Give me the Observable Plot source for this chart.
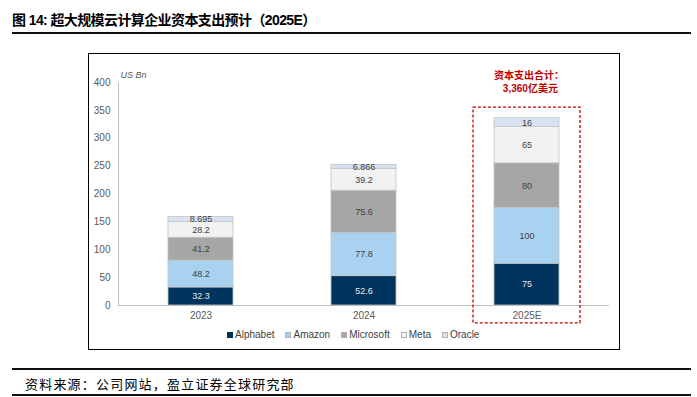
<!DOCTYPE html>
<html><head><meta charset="utf-8">
<script src="https://cdn.jsdelivr.net/npm/d3@7"></script>
<script src="https://cdn.jsdelivr.net/npm/@observablehq/plot@0.6"></script>
<style>
body{margin:0;background:#fff;}
#wrap{position:relative;width:697px;height:397px;overflow:hidden;font-family:"Liberation Sans",Arial,sans-serif;}
#title{position:absolute;left:12px;top:9px;font-family:"Liberation Sans","Noto Sans CJK SC",sans-serif;font-weight:bold;font-size:14px;letter-spacing:-0.6px;color:#000;white-space:nowrap;}
.hl{position:absolute;left:12px;width:679px;background:#111;}
#frame{position:absolute;left:88px;top:53px;width:530px;height:295px;border:1.5px solid #000;}
#chart{position:absolute;left:0;top:0;}
#legend{position:absolute;top:329px;left:227px;font-size:10px;color:#404040;white-space:nowrap;display:flex;gap:0;}
#legend span.it{display:inline-flex;align-items:center;margin-right:11px;}
#legend i{display:inline-block;width:6px;height:6px;margin-right:2px;box-sizing:border-box;}
#source{position:absolute;left:25px;top:374px;font-family:"Noto Sans CJK SC",sans-serif;font-size:13px;letter-spacing:1.2px;color:#000;white-space:nowrap;}
</style></head>
<body>
<div id="wrap">
  <div id="title">图 14: 超大规模云计算企业资本支出预计（2025E）</div>
  <div class="hl" style="top:32px;height:2px;"></div>
  <div id="frame"></div>
  <div id="chart"></div>
  <div id="legend"></div>
  <div class="hl" style="top:368px;height:1.5px;"></div>
  <div id="source">资料来源：公司网站，盈立证券全球研究部</div>
  <div class="hl" style="top:394px;height:1.5px;"></div>
</div>
<script>
const years = ["2023", "2024", "2025E"];
const companies = ["Alphabet", "Amazon", "Microsoft", "Meta", "Oracle"];
const alphabet = [32.3, 52.6, 75];
const amazon = [48.2, 77.8, 100];
const microsoft = [41.2, 75.6, 80];
const meta = [28.2, 39.2, 65];
const oracle = [8.695, 6.866, 16];
const labels = [
  ["32.3", "52.6", "75"],
  ["48.2", "77.8", "100"],
  ["41.2", "75.6", "80"],
  ["28.2", "39.2", "65"],
  ["8.695", "6.866", "16"]
];
const colors = ["#00345f", "#a9d2f0", "#a6a6a6", "#f2f2f2", "#d9e2f3"];
const yTicks = [0, 50, 100, 150, 200, 250, 300, 350, 400];
const highlightYear = "2025E";

const series = [alphabet, amazon, microsoft, meta, oracle];
const data = [];
companies.forEach((c, ci) => {
  years.forEach((yr, yi) => {
    data.push({year: yr, company: c, value: series[ci][yi], label: labels[ci][yi], ci});
  });
});
const total2025 = d3.sum(series, s => s[years.indexOf(highlightYear)]);
const annot = [{year: highlightYear, text: "资本支出合计：\n " + d3.format(",")(Math.round(total2025 * 10)) + "亿美元"}];

const chart = Plot.plot({
  width: 697,
  height: 397,
  marginLeft: 118,
  marginRight: 88,
  marginTop: 82,
  marginBottom: 92,
  style: {fontFamily: "Liberation Sans, Arial, sans-serif", fontSize: "10px", color: "#595959", background: "transparent"},
  x: {domain: years, paddingInner: 0.6, paddingOuter: 0.3, label: null},
  y: {domain: [0, 400], label: null},
  color: {domain: companies, range: colors},
  marks: [
    Plot.frame({anchor: "left", stroke: "#bfbfbf"}),
    Plot.barY(data, {x: "year", y: "value", fill: "company", order: companies, stroke: "#c4c4c4", strokeWidth: 0.8}),
    Plot.text(data, Plot.stackY({x: "year", y: "value", z: "company", order: companies, text: "label",
      fill: d => d.ci === 0 ? "#eaeaea" : "#404040", fontSize: 9})),
    Plot.ruleY([0], {stroke: "#bfbfbf", strokeWidth: 1.2}),
    Plot.axisY({ticks: yTicks, tickSize: 0, tickPadding: 8, fill: "#595959", label: null, fontSize: 10}),
    Plot.axisX({tickSize: 0, tickPadding: 6, fill: "#595959", label: null, fontSize: 10}),
    Plot.text(["US Bn"], {frameAnchor: "top-left", dx: 2, dy: -11, textAnchor: "start", fontStyle: "italic", fill: "#595959", fontSize: 9}),
    Plot.barY(annot, {x: "year", y1: -32, y2: 355, fill: "none", stroke: "#c00000", strokeWidth: 1.3, strokeDasharray: "3,2", insetLeft: -21, insetRight: -21, clip: false}),
    Plot.text(annot, {x: "year", y: 400, dy: -1, dx: 2, text: "text", fill: "#c00000", fontWeight: "bold", fontSize: 10, lineHeight: 1.3, fontFamily: "Liberation Sans, Noto Sans CJK SC, sans-serif"})
  ]
});
document.getElementById("chart").appendChild(chart);

const legend = document.getElementById("legend");
companies.forEach((c, i) => {
  const s = document.createElement("span");
  s.className = "it";
  const sw = document.createElement("i");
  sw.style.background = colors[i];
  if (i > 0) sw.style.border = "0.5px solid #b0b0b0";
  s.appendChild(sw);
  s.appendChild(document.createTextNode(c));
  legend.appendChild(s);
});
</script>
</body></html>
